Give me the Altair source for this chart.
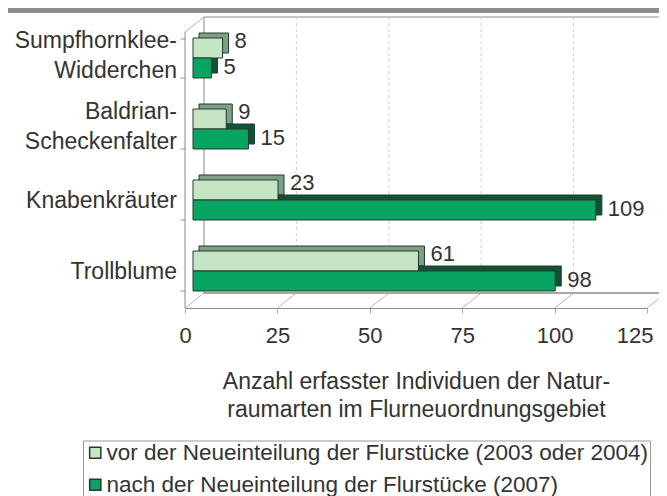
import altair as alt
import pandas as pd

# ---------------- data ----------------
categories = ["Sumpfhornklee-\nWidderchen", "Baldrian-\nScheckenfalter", "Knabenkräuter", "Trollblume"]
series = ["vor der Neueinteilung der Flurstücke (2003 oder 2004)",
          "nach der Neueinteilung der Flurstücke (2007)"]
vor_values = [8, 9, 23, 61]
nach_values = [5, 15, 109, 98]
x_ticks = [0, 25, 50, 75, 100, 125]
grid_values = [25, 50, 75, 100]
axis_title = ["Anzahl erfasster Individuen der Natur-", "raumarten im Flurneuordnungsgebiet"]

# ---------------- style ----------------
FONT = "Liberation Sans"
TXT = "#333333"
light, dark = "#c4e6c4", "#08a462"
light_depth, dark_depth = "#7c9f86", "#0f5236"
outline = "#26382e"
frame = "#8a8a8a"

rows = []
for c, v in zip(categories, vor_values):
    rows.append({"cat": c, "series": series[0], "value": v, "depth": light_depth})
for c, v in zip(categories, nach_values):
    rows.append({"cat": c, "series": series[1], "value": v, "depth": dark_depth})
df = pd.DataFrame(rows)
cat_df = pd.DataFrame({"cat": categories})
one = alt.Data(values=[{}])
ticks_df = pd.DataFrame({"t": x_ticks})
grid_df = pd.DataFrame({"g": grid_values})

W, H = 462, 284
DX, DY = 19, -15          # depth of the 3D box
FLOOR = 285.5             # front floor edge (view px)
FRONT_TOP = 9.5
BAR_DX = 8                # bars sit a little inside the box
SIDE, TOP = 6, 5          # bar depth
BANDW = 40

xscale = alt.Scale(domain=[0, 125], nice=False, zero=True)
yscale = alt.Scale(domain=categories, paddingInner=0.437, paddingOuter=0.2185)
yoff_scale = alt.Scale(domain=series, paddingInner=0, paddingOuter=0)
yoff_shadow = alt.Scale(domain=series, range=[-TOP, BANDW - TOP], paddingInner=0, paddingOuter=0)
yoff_text = alt.Scale(type="point", domain=series, range=[BANDW / 4, 3 * BANDW / 4], padding=0)

xaxis = alt.Axis(values=x_ticks, offset=1.5, grid=False, domainColor=frame, tickColor="#aaaaaa",
                 tickSize=5, labelFont=FONT, labelFontSize=22, labelColor=TXT, labelPadding=12,
                 labelFlush=True, labelFlushOffset=6,
                 title=axis_title, titleFont=FONT, titleFontSize=23, titleFontWeight="normal",
                 titleColor=TXT, titleLineHeight=28, titlePadding=24)
yaxis = alt.Axis(title=None, domain=False, ticks=True, tickBand="extent", tickSize=5,
                 tickColor="#999999", labels=False)


def xdatum(v):
    return alt.X(datum=v, type="quantitative", scale=xscale, axis=xaxis)


# header band
band = alt.Chart(one).mark_rect(color="#8e8e8e").encode(
    x=alt.value(-177), x2=alt.value(474), y=alt.value(-14.5), y2=alt.value(-9.5))

# back wall
wall = alt.Chart(one).mark_rect(xOffset=DX, x2Offset=DX, fill="white", stroke=frame, strokeWidth=1).encode(
    x=xdatum(0), x2=alt.X2(datum=125),
    y=alt.value(FRONT_TOP + DY), y2=alt.value(FLOOR + DY))

grid = alt.Chart(grid_df).mark_rule(xOffset=DX, strokeDash=[3, 3], color="#cfcfcf", strokeWidth=1).encode(
    x=alt.X("g:Q", scale=xscale, axis=xaxis),
    y=alt.value(FRONT_TOP + DY), y2=alt.value(FLOOR + DY))

floor_diag = alt.Chart(ticks_df).mark_rule(x2Offset=DX, color="#b5b5b5", strokeWidth=1).encode(
    x=alt.X("t:Q", scale=xscale, axis=xaxis), x2="t:Q",
    y=alt.value(FLOOR), y2=alt.value(FLOOR + DY))

floor_back = alt.Chart(one).mark_rule(xOffset=DX, x2Offset=DX, color=frame, strokeWidth=1).encode(
    x=xdatum(0), x2=alt.X2(datum=125), y=alt.value(FLOOR + DY))

left_front = alt.Chart(one).mark_rule(color=frame, strokeWidth=1).encode(
    x=xdatum(0), y=alt.value(FRONT_TOP), y2=alt.value(FLOOR))

left_diag = alt.Chart(one).mark_rule(x2Offset=DX, color="#b0b0b0", strokeWidth=1).encode(
    x=xdatum(0), x2=alt.X2(datum=0),
    y=alt.value(FRONT_TOP), y2=alt.value(FRONT_TOP + DY))

ysort = categories

shadow = alt.Chart(df).mark_bar(xOffset=BAR_DX + SIDE, x2Offset=BAR_DX + SIDE,
                                stroke=outline, strokeWidth=1).encode(
    x=alt.X("value:Q", scale=xscale, axis=xaxis),
    y=alt.Y("cat:N", scale=yscale, sort=ysort, axis=yaxis),
    yOffset=alt.YOffset("series:N", scale=yoff_shadow, sort=series),
    fill=alt.Fill("depth:N", scale=None),
)

front = alt.Chart(df).mark_bar(xOffset=BAR_DX, x2Offset=BAR_DX, stroke=outline, strokeWidth=1).encode(
    x=alt.X("value:Q", scale=xscale, axis=xaxis),
    y=alt.Y("cat:N", scale=yscale, sort=ysort, axis=yaxis),
    yOffset=alt.YOffset("series:N", scale=yoff_scale, sort=series),
    color=alt.Color("series:N", scale=alt.Scale(domain=series, range=[light, dark]),
                    legend=alt.Legend(title=None, orient="none", legendX=-102, legendY=418,
                                      direction="vertical", symbolType="square", symbolSize=125,
                                      symbolStrokeColor="#333333", symbolStrokeWidth=1.5,
                                      symbolOffset=0,
                                      labelFont=FONT, labelFontSize=22.5, labelColor=TXT, labelLimit=700,
                                      labelOffset=0, rowPadding=9, padding=1, strokeColor="#999999",
                                      fillColor="white")),
)


def labels(idx, dy):
    return alt.Chart(df).transform_filter(alt.datum.series == series[idx]).mark_text(
        align="left", baseline="middle", dx=BAR_DX + 12, dy=dy, font=FONT, fontSize=22, color=TXT).encode(
        x=alt.X("value:Q", scale=xscale, axis=xaxis),
        y=alt.Y("cat:N", scale=yscale, sort=ysort, axis=yaxis, bandPosition=0),
        yOffset=alt.YOffset("series:N", scale=yoff_text, sort=series),
        text="value:Q")


def cat_labels(multi, dy):
    test = "indexof(datum.cat, '\\n') >= 0" if multi else "indexof(datum.cat, '\\n') < 0"
    return alt.Chart(cat_df).transform_filter(test).mark_text(
        align="right", baseline="middle", lineBreak="\n", lineHeight=30, dy=dy,
        font=FONT, fontSize=23, color=TXT).encode(
        x=alt.value(-8),
        y=alt.Y("cat:N", scale=yscale, sort=ysort, axis=yaxis),
        text="cat:N")


chart = alt.layer(
    band, wall, grid, floor_diag, floor_back, left_front, left_diag,
    shadow, front, labels(0, -7), labels(1, -1), cat_labels(True, -17), cat_labels(False, 1)
).resolve_scale(yOffset="independent").properties(
    width=W, height=H,
    autosize=alt.AutoSizeParams(type="none"),
    padding={"left": 177, "top": 14.5, "right": 12, "bottom": 195},
    background="white",
).configure_view(stroke=None)

chart.save("out.html", embed_options={"renderer": "svg", "actions": False})
